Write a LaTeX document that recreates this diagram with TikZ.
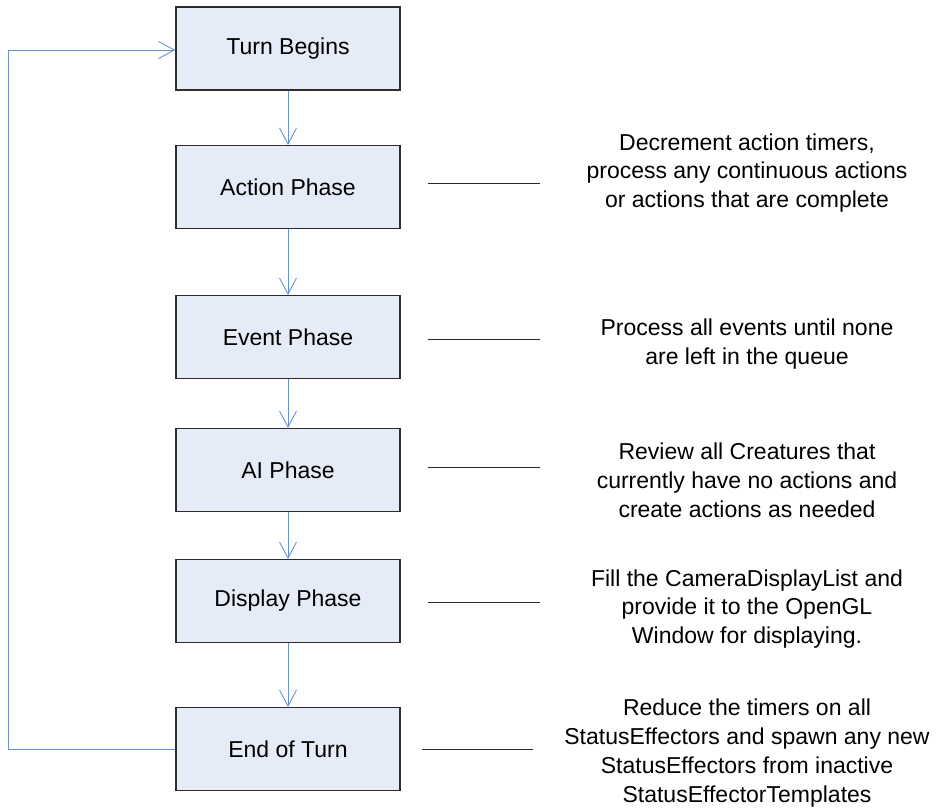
\documentclass[tikz,border=0pt]{standalone}
\usepackage{fontspec}
\setmainfont{Liberation Sans}
\usetikzlibrary{arrows.meta}
\definecolor{flowblue}{RGB}{102,145,215}
\definecolor{boxfill}{RGB}{230,236,247}
\definecolor{boxedge}{RGB}{45,45,45}
\definecolor{tickgray}{RGB}{40,40,40}
\begin{document}
\begin{tikzpicture}[x=1pt,y=-1pt,
  phasebox/.style={draw=boxedge,fill=boxfill,line width=1.1pt,rectangle,
    minimum width=224pt,minimum height=83pt,inner sep=0pt,
    font=\fontsize{23}{28}\selectfont},
  note/.style={align=center,inner sep=0pt,
    font=\fontsize{23}{28.9}\selectfont},
  flow/.style={draw=flowblue,line width=0.9pt,
    -{Straight Barb[length=16pt,width=17pt,line width=0.9pt]}},
  tick/.style={draw=tickgray,line width=0.9pt}]
  \useasboundingbox (0,0) rectangle (936,808);

  % phase boxes
  \node[phasebox] (tb)  at (288,48.5) {Turn Begins};
  \node[phasebox] (act) at (288,187)  {Action Phase};
  \node[phasebox] (evt) at (288,337)  {Event Phase};
  \node[phasebox] (ai)  at (288,470)  {AI Phase};
  \node[phasebox] (dsp) at (288,601)  {Display Phase};
  \node[phasebox] (eot) at (288,749)  {End of Turn};

  % downward flow
  \draw[flow] (tb)  -- (act);
  \draw[flow] (act) -- (evt);
  \draw[flow] (evt) -- (ai);
  \draw[flow] (ai)  -- (dsp);
  \draw[flow] (dsp) -- (eot);

  % loop back to the start of the turn
  \draw[flow] (eot.west) -- (8,749) -- (8,50) -- (tb.west |- 0,50);

  % descriptions
  \node[note] (actn) at (747,173) {Decrement action timers,\\process any continuous actions\\or actions that are complete};
  \node[note] (evtn) at (747,344) {Process all events until none\\are left in the queue};
  \node[note] (ain)  at (747,480) {Review all Creatures that\\currently have no actions and\\create actions as needed};
  \node[note] (dspn) at (747,609) {Fill the CameraDisplayList and\\provide it to the OpenGL\\Window for displaying.};
  \node[note] (eotn) at (747,753) {Reduce the timers on all\\StatusEffectors and spawn any new\\StatusEffectors from inactive\\StatusEffectorTemplates};

  % short rules between boxes and descriptions
  \coordinate (t1a) at (428,183); \coordinate (t1b) at (540,183);
  \coordinate (t2a) at (428,339); \coordinate (t2b) at (540,339);
  \coordinate (t3a) at (428,467); \coordinate (t3b) at (540,467);
  \coordinate (t4a) at (428,602); \coordinate (t4b) at (540,602);
  \coordinate (t5a) at (422,749); \coordinate (t5b) at (533,749);
  \draw[tick] (t1a) -- (t1b);
  \draw[tick] (t2a) -- (t2b);
  \draw[tick] (t3a) -- (t3b);
  \draw[tick] (t4a) -- (t4b);
  \draw[tick] (t5a) -- (t5b);
\end{tikzpicture}
\end{document}
